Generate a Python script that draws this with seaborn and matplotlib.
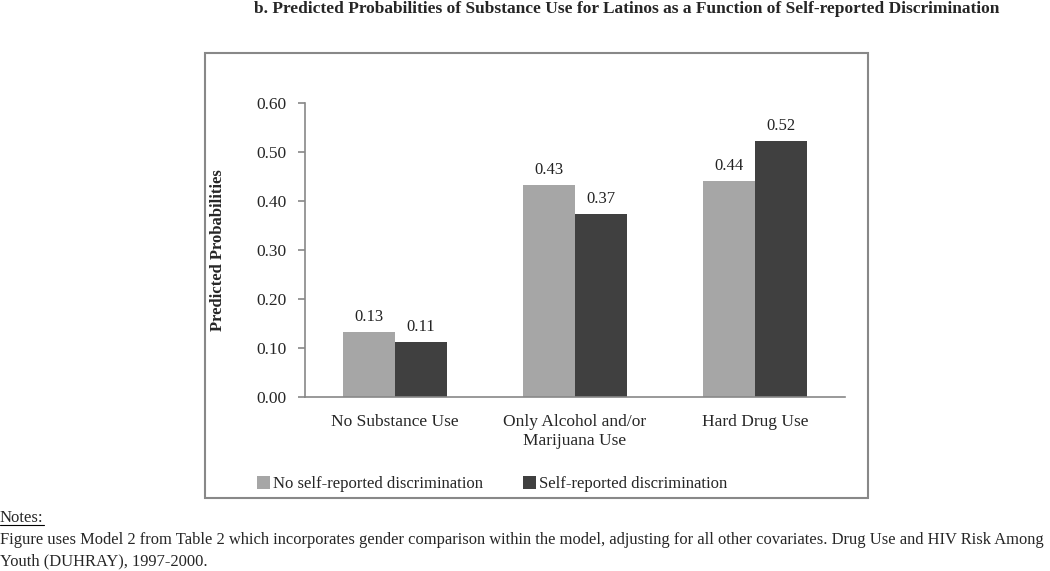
import pandas as pd
import matplotlib.pyplot as plt
import seaborn as sns
from matplotlib.patches import Rectangle
from matplotlib.lines import Line2D

# ---- data ----
categories = ["No Substance Use", "Only Alcohol and/or\nMarijuana Use", "Hard Drug Use"]
groups = ["No self-reported discrimination", "Self-reported discrimination"]
no_disc = [0.133, 0.432, 0.441]
disc = [0.112, 0.374, 0.523]
y_ticks = [0.0, 0.1, 0.2, 0.3, 0.4, 0.5, 0.6]

title = ("b. Predicted Probabilities of Substance Use for Latinos as a Function "
         "of Self-reported Discrimination")
notes = ["Figure uses Model 2 from Table 2 which incorporates gender comparison within the model, "
         "adjusting for all other covariates. Drug Use and HIV Risk Among",
         "Youth (DUHRAY), 1997-2000."]

df = pd.DataFrame({
    "category": categories * 2,
    "prob": no_disc + disc,
    "group": [groups[0]] * 3 + [groups[1]] * 3,
})

sns.set_theme(style="white")
plt.rcParams["font.family"] = ["Liberation Serif", "DejaVu Serif"]

fig = plt.figure(figsize=(10.5, 5.71), dpi=100)
ax = fig.add_axes([305 / 1050, 1 - 397 / 571, 540 / 1050, 294 / 571])

sns.barplot(data=df, x="category", y="prob", hue="group",
            palette=["#a6a6a6", "#404040"], width=0.58, saturation=1,
            linewidth=0, ax=ax, legend=True)

for cont in ax.containers:
    ax.bar_label(cont, fmt="%.2f", padding=5, fontsize=12, color="#222222")

ax.set_ylim(0, 0.6)
ax.set_xlim(-0.5, 2.5)
ax.set_yticks(y_ticks)
ax.set_yticklabels([f"{v:.2f}" for v in y_ticks], fontsize=12.5)
ax.set_xticks(range(3))
ax.set_xticklabels(categories, fontsize=12.5, linespacing=1.25)
ax.set_xticks([-0.5, 0.5, 1.5, 2.5], minor=True)
ax.tick_params(axis="x", which="major", length=0, pad=12)
ax.tick_params(axis="x", which="minor", length=5, width=1.2, color="#888888", direction="out")
ax.tick_params(axis="y", length=5, width=1.2, color="#888888", direction="out", left=True, pad=8)
ax.set_xlabel("")
ax.set_ylabel("Predicted Probabilities", fontsize=12, fontweight="bold", labelpad=22)
for s in ["top", "right"]:
    ax.spines[s].set_visible(False)
for s in ["left", "bottom"]:
    ax.spines[s].set_color("#888888")
    ax.spines[s].set_linewidth(1.2)

handles, labels = ax.get_legend_handles_labels()
ax.get_legend().remove()
fig.legend(handles, labels, loc="center", bbox_to_anchor=(492 / 1050, 1 - 484 / 571),
           ncol=2, frameon=False, fontsize=12, handlelength=0.8, handleheight=0.8,
           handletextpad=0.15, columnspacing=2.4)

# chart border
fig.patches.append(Rectangle((205 / 1050, 1 - 498 / 571), 663 / 1050, 445 / 571,
                             transform=fig.transFigure, fill=False,
                             edgecolor="#888888", linewidth=1.5))

fig.text(627 / 1050, 1 - 9 / 571, title, ha="center", va="center",
         fontsize=12.5, fontweight="bold")

nt = fig.text(0, 1 - 518 / 571, "Notes:", ha="left", va="center", fontsize=12)
fig.text(0, 1 - 540 / 571, notes[0], ha="left", va="center", fontsize=11.85)
fig.text(0, 1 - 561 / 571, notes[1], ha="left", va="center", fontsize=11.85)

fig.canvas.draw()
bb = nt.get_window_extent().transformed(fig.transFigure.inverted())
fig.lines.append(Line2D([bb.x0, bb.x1], [bb.y0 + 0.002, bb.y0 + 0.002],
                        transform=fig.transFigure, color="black", linewidth=0.8))

fig.savefig("out.png", dpi=100)
